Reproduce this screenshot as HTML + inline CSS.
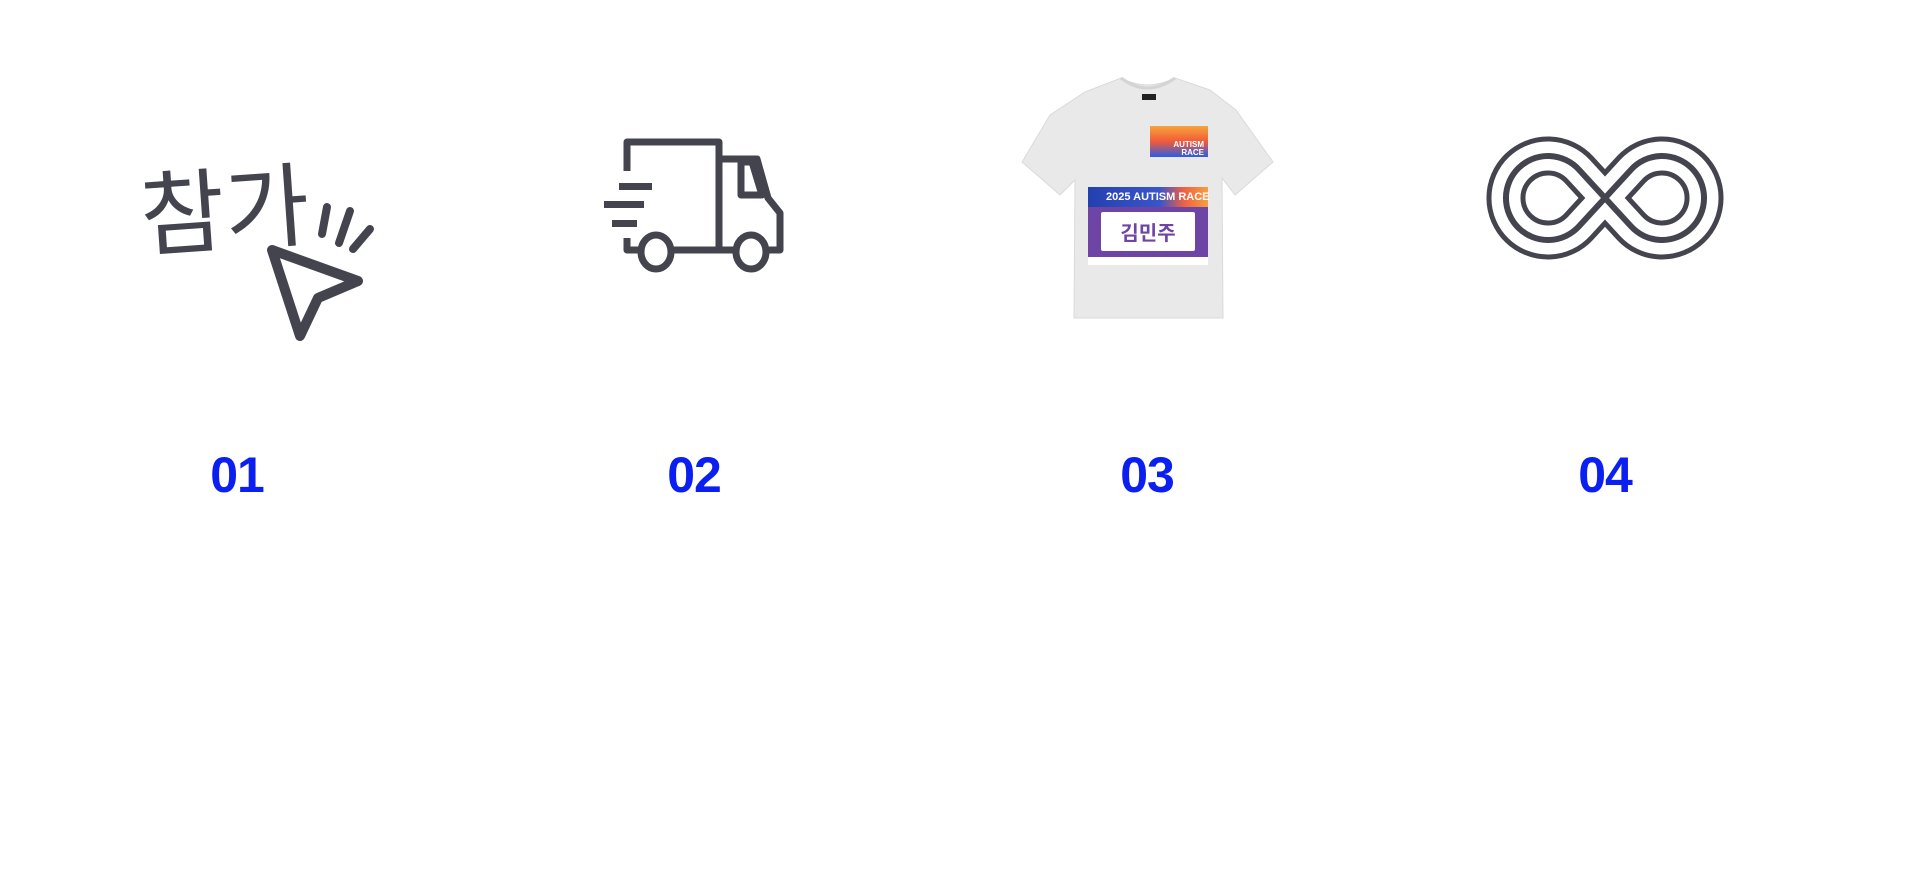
<!DOCTYPE html>
<html><head><meta charset="utf-8"><style>
html,body{margin:0;padding:0;background:#fff;width:1920px;height:889px;overflow:hidden}
.n{position:absolute;top:446px;font-family:"Liberation Sans","Noto Sans CJK KR",sans-serif;font-weight:bold;font-size:50px;color:#0a1ff0;width:120px;text-align:center;letter-spacing:-1px}
</style></head><body>
<svg width="1920" height="889" style="position:absolute;left:0;top:0">
<defs>
<linearGradient id="g1" x1="0" y1="0" x2="0" y2="1"><stop offset="0" stop-color="#f7a43a"/><stop offset="0.5" stop-color="#f05a3a"/><stop offset="1" stop-color="#2a5de8"/></linearGradient>
<linearGradient id="g2" x1="0" y1="0" x2="1" y2="0"><stop offset="0" stop-color="#2340b0"/><stop offset="0.6" stop-color="#3a55c8"/><stop offset="0.8" stop-color="#f06040"/><stop offset="1" stop-color="#f5a040"/></linearGradient>
</defs>
<!-- 01 -->
<text x="140" y="245" font-family="'Noto Sans CJK KR',sans-serif" font-size="92" font-weight="normal" fill="#44444e" transform="rotate(-4 200 210)">참가</text>
<polygon points="272,250 358,281 318,298 300,336" fill="none" stroke="#44444e" stroke-width="10" stroke-linejoin="round"/>
<g stroke="#44444e" stroke-width="8" stroke-linecap="round">
<line x1="327" y1="207" x2="322" y2="234"/><line x1="350" y1="211" x2="339" y2="243"/><line x1="370" y1="229" x2="353" y2="249"/></g>
<!-- truck -->
<g fill="none" stroke="#44444e" stroke-width="7" stroke-linejoin="round">
<polyline points="627,171 627,142 719,142 719,250"/>
<polyline points="719,159 757,159 768,198 780,213 780,250 768,250"/>
<polyline points="741,162 752,162 762,195 741,195 741,162"/>
<polyline points="627,238 627,250 640,250"/>
<line x1="672" y1="250" x2="735" y2="250"/>
<ellipse cx="656" cy="252" rx="15" ry="17"/><ellipse cx="751" cy="252" rx="15" ry="17"/>
</g>
<g fill="#44444e"><rect x="619" y="183" width="33" height="7"/><rect x="604" y="201" width="40" height="7"/><rect x="612" y="220" width="25" height="7"/></g>
<!-- tshirt -->
<path d="M1121,78 Q1147,92 1175,78 L1210,90 L1236,110 L1273,162 L1235,195 L1222,178 L1223,318 L1074,318 L1075,180 L1060,195 L1022,162 L1050,115 L1085,92 Z" fill="#e9e9e9" stroke="#dadada" stroke-width="1"/>
<path d="M1121,78 Q1147,98 1175,78" fill="none" stroke="#d4d4d4" stroke-width="3"/>
<rect x="1142" y="94" width="14" height="6" fill="#222"/>
<rect x="1150" y="126" width="58" height="31" fill="url(#g1)"/>
<text x="1204" y="147" text-anchor="end" font-family="'Liberation Sans',sans-serif" font-weight="bold" font-size="8" fill="#fff">AUTISM</text>
<text x="1204" y="155" text-anchor="end" font-family="'Liberation Sans',sans-serif" font-weight="bold" font-size="8" fill="#fff">RACE</text>
<rect x="1088" y="187" width="120" height="78" fill="#fff"/>
<rect x="1088" y="187" width="120" height="20" fill="url(#g2)"/>
<text x="1106" y="200" font-family="'Liberation Sans',sans-serif" font-weight="bold" font-size="11" fill="#fff">2025 AUTISM RACE</text>
<rect x="1088" y="207" width="120" height="50" fill="#6e45a4"/>
<rect x="1101" y="212" width="94" height="39" rx="2" fill="#fff"/>
<text x="1148" y="240" text-anchor="middle" font-family="'Noto Sans CJK KR',sans-serif" font-weight="bold" font-size="20" fill="#6e45a4">김민주</text>
<!-- infinity -->
<g fill="none" stroke-linejoin="round">
<path d="M1605 198 L1631.1 169.6 A42 42 0 1 1 1631.1 226.4 L1578.9 169.6 A42 42 0 1 0 1578.9 226.4 Z" stroke="#44444e" stroke-width="39"/>
<path d="M1605 198 L1631.1 169.6 A42 42 0 1 1 1631.1 226.4 L1578.9 169.6 A42 42 0 1 0 1578.9 226.4 Z" stroke="#fff" stroke-width="29"/>
<path d="M1605 198 L1631.1 169.6 A42 42 0 1 1 1631.1 226.4 L1578.9 169.6 A42 42 0 1 0 1578.9 226.4 Z" stroke="#44444e" stroke-width="6"/>
</g>
</svg>
<div class="n" style="left:177px">01</div>
<div class="n" style="left:634px">02</div>
<div class="n" style="left:1087px">03</div>
<div class="n" style="left:1545px">04</div>
</body></html>
